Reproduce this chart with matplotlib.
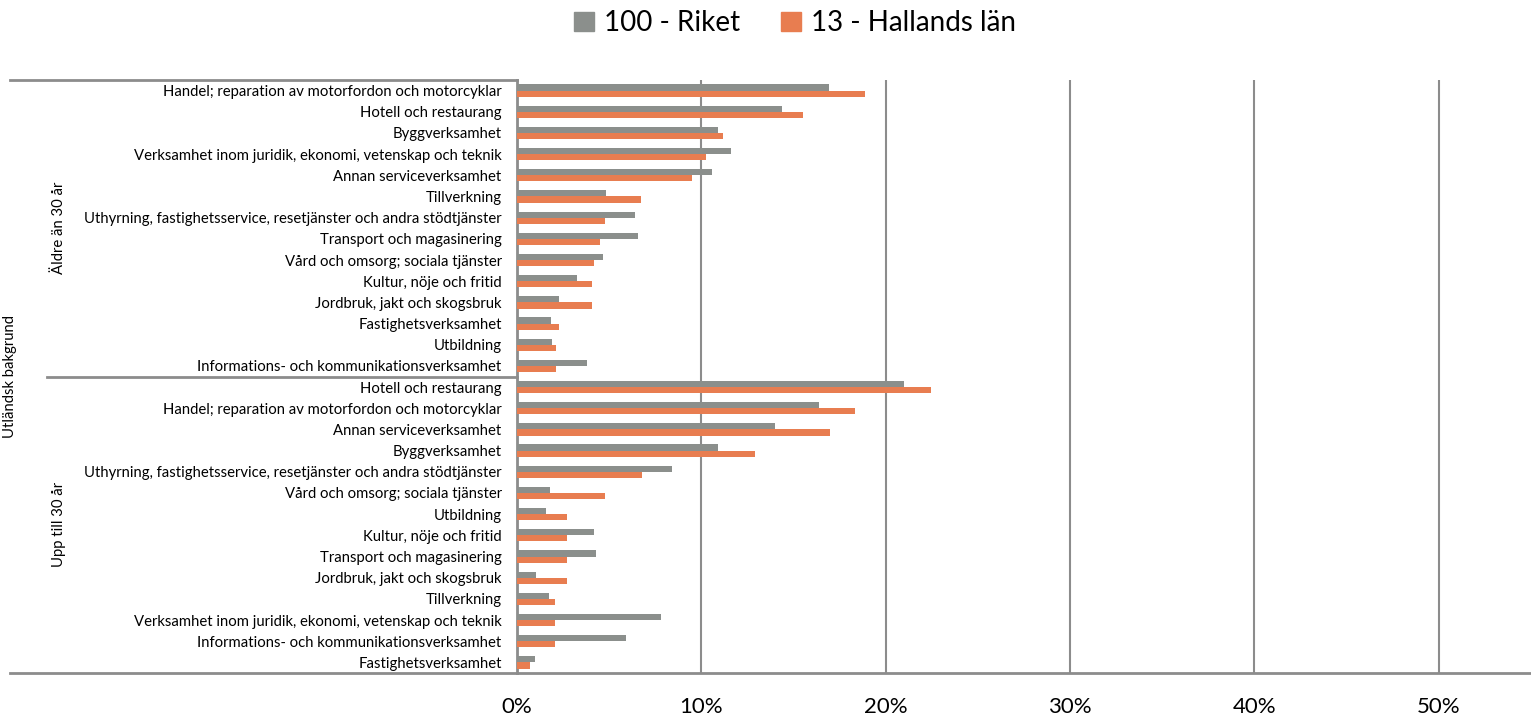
import matplotlib.pyplot as plt
from matplotlib.patches import Patch
import numpy as np

plt.rcParams['font.family'] = ['Lato', 'DejaVu Sans']

# Äldre än 30 år
older_labels = [
    'Handel; reparation av motorfordon och motorcyklar',
    'Hotell och restaurang',
    'Byggverksamhet',
    'Verksamhet inom juridik, ekonomi, vetenskap och teknik',
    'Annan serviceverksamhet',
    'Tillverkning',
    'Uthyrning, fastighetsservice, resetjänster och andra stödtjänster',
    'Transport och magasinering',
    'Vård och omsorg; sociala tjänster',
    'Kultur, nöje och fritid',
    'Jordbruk, jakt och skogsbruk',
    'Fastighetsverksamhet',
    'Utbildning',
    'Informations- och kommunikationsverksamhet',
]
older_riket = [16.9, 14.4, 10.9, 11.6, 10.6, 4.85, 6.4, 6.55, 4.65, 3.25, 2.3, 1.85, 1.9, 3.8]
older_halland = [18.9, 15.5, 11.2, 10.25, 9.5, 6.7, 4.75, 4.5, 4.2, 4.05, 4.05, 2.3, 2.1, 2.1]

# Upp till 30 år
young_labels = [
    'Hotell och restaurang',
    'Handel; reparation av motorfordon och motorcyklar',
    'Annan serviceverksamhet',
    'Byggverksamhet',
    'Uthyrning, fastighetsservice, resetjänster och andra stödtjänster',
    'Vård och omsorg; sociala tjänster',
    'Utbildning',
    'Kultur, nöje och fritid',
    'Transport och magasinering',
    'Jordbruk, jakt och skogsbruk',
    'Tillverkning',
    'Verksamhet inom juridik, ekonomi, vetenskap och teknik',
    'Informations- och kommunikationsverksamhet',
    'Fastighetsverksamhet',
]
young_riket = [21.0, 16.4, 14.0, 10.9, 8.4, 1.8, 1.6, 4.2, 4.3, 1.05, 1.75, 7.8, 5.9, 0.95]
young_halland = [22.45, 18.35, 17.0, 12.9, 6.8, 4.75, 2.7, 2.7, 2.7, 2.7, 2.05, 2.05, 2.05, 0.7]

xticks = [0, 10, 20, 30, 40, 50]
series_names = ['100 - Riket', '13 - Hallands län']

GREY = '#8b8f8c'
ORANGE = '#e87d50'
LINE = '#8c8c8c'
FS = 10.7

W, H = 1531, 718
fig = plt.figure(figsize=(W / 100, H / 100), dpi=100)
ax = fig.add_axes([517 / W, (H - 673) / H, (W - 517) / W, (673 - 80) / H])

labels = older_labels + young_labels
riket = older_riket + young_riket
halland = older_halland + young_halland
n = len(labels)
y = np.arange(n)
h = 0.29
ax.barh(y - h / 2, riket, height=h, color=GREY, zorder=3)
ax.barh(y + h / 2, halland, height=h, color=ORANGE, zorder=3)

ax.set_ylim(n - 0.5, -0.5)
ax.set_xlim(0, 55)
ax.set_xticks(xticks)
ax.set_xticklabels([f'{v}%' for v in xticks])
ax.set_yticks(y)
ax.set_yticklabels(labels)
ax.grid(axis='x', color=LINE, lw=1.5, zorder=0)
ax.set_axisbelow(True)
for s in ['top', 'right']:
    ax.spines[s].set_visible(False)
for s in ['left', 'bottom']:
    ax.spines[s].set_color(LINE)
    ax.spines[s].set_linewidth(2)
ax.tick_params(axis='x', length=0, labelsize=16, pad=17)
ax.tick_params(axis='y', length=0, labelsize=FS, pad=11)

# multi-level category lines
tr = ax.get_yaxis_transform()
x0 = (10 - 517) / (W - 517)
x1 = (47 - 517) / (W - 517)
ax.plot([x0, 0], [-0.5, -0.5], transform=tr, color=LINE, lw=2, clip_on=False)
ax.plot([x1, 0], [13.5, 13.5], transform=tr, color=LINE, lw=2, clip_on=False)
ax.plot([x0, 0], [n - 0.5, n - 0.5], transform=tr, color=LINE, lw=2, clip_on=False)

ax.text((10 - 517) / (W - 517), 13.5, 'Utländsk bakgrund', transform=tr, rotation=90,
        ha='center', va='center', fontsize=FS)
ax.text((59 - 517) / (W - 517), 6.5, 'Äldre än 30 år', transform=tr, rotation=90,
        ha='center', va='center', fontsize=FS)
ax.text((59 - 517) / (W - 517), 20.5, 'Upp till 30 år', transform=tr, rotation=90,
        ha='center', va='center', fontsize=FS)

handles = [Patch(color=GREY), Patch(color=ORANGE)]
fig.legend(handles, series_names, loc='center', bbox_to_anchor=(795 / W, 1 - 23 / H),
           ncol=2, frameon=False, fontsize=20, handlelength=0.7, handleheight=0.7,
           handletextpad=0.35, columnspacing=1.5)

fig.savefig('out.png', dpi=100)
